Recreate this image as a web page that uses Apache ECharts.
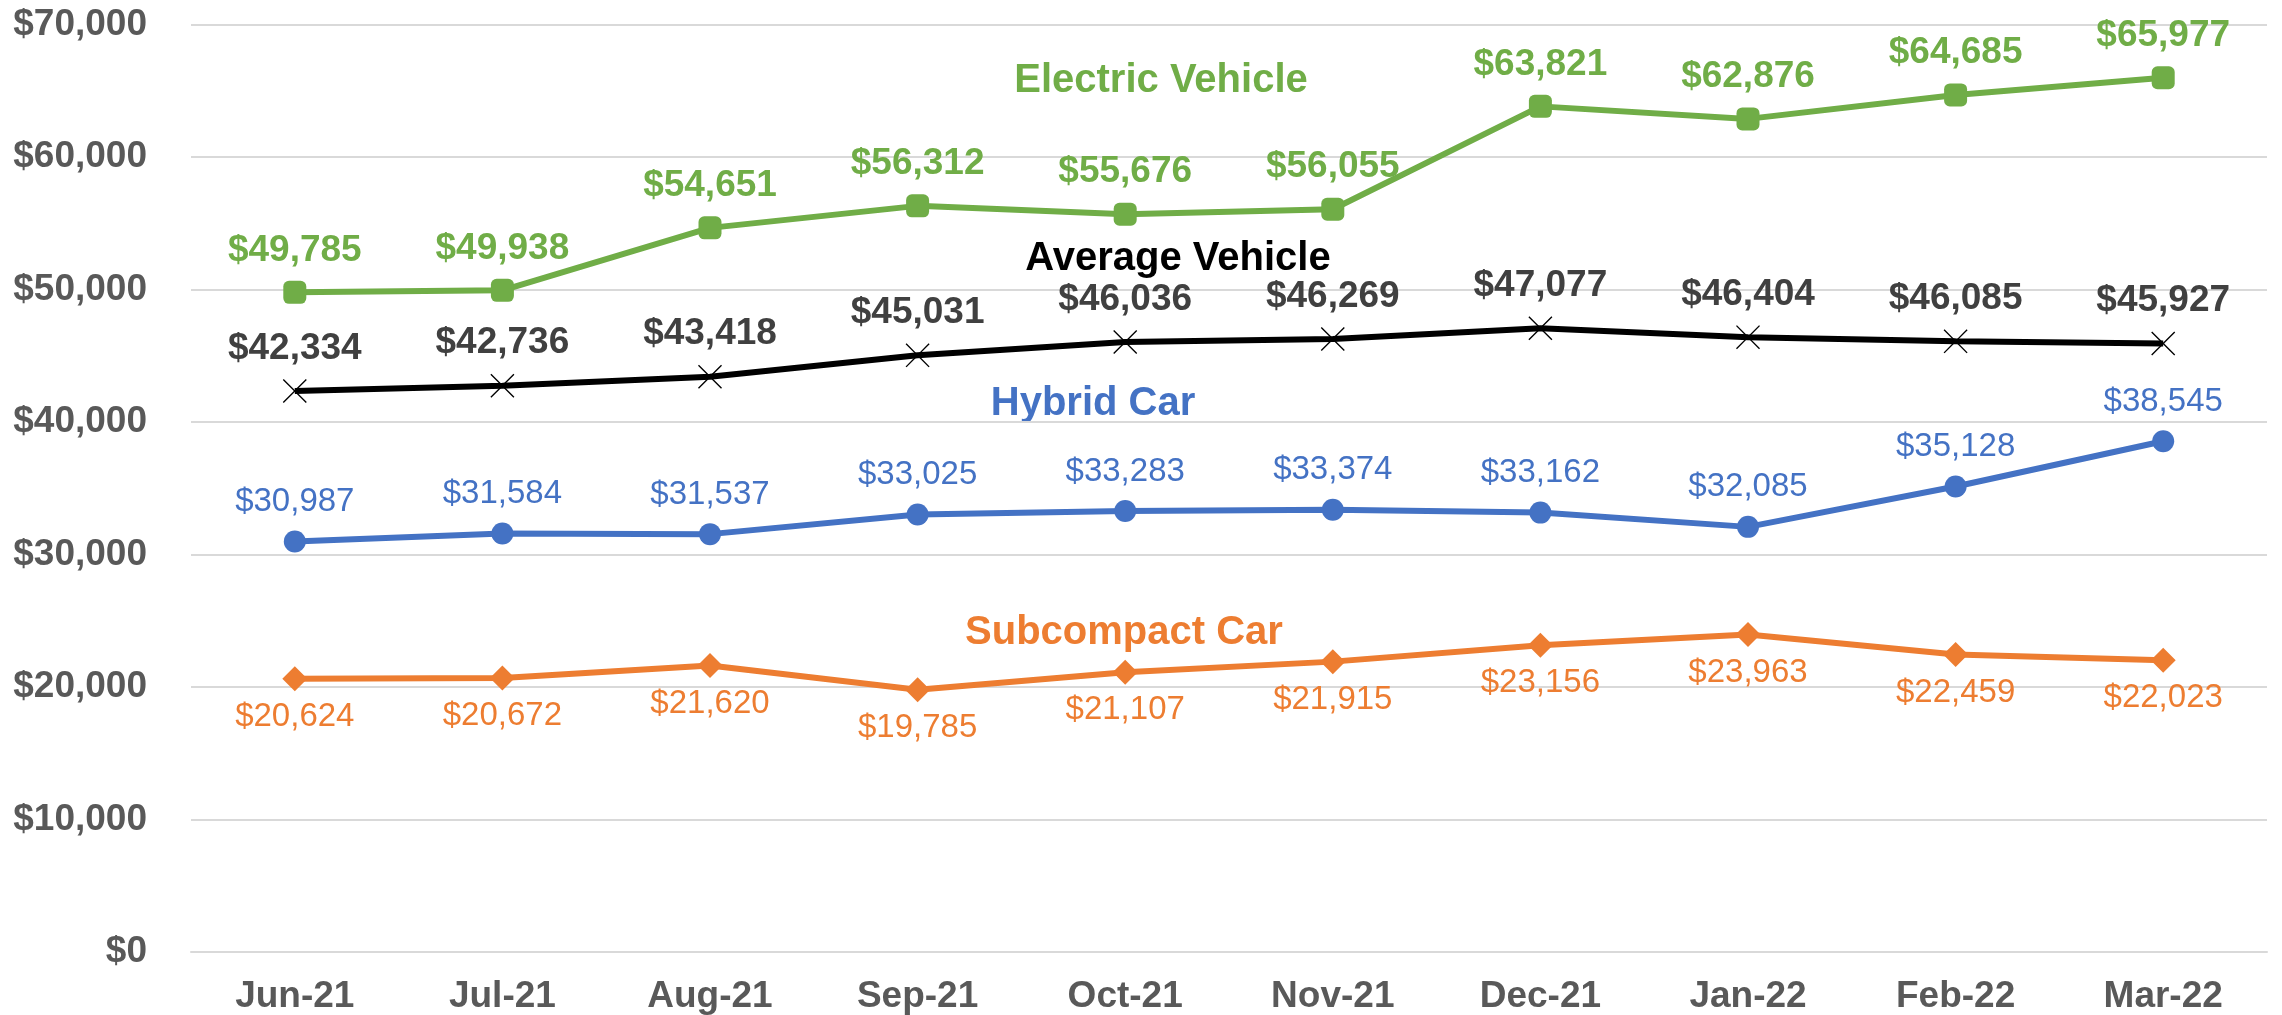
<!DOCTYPE html>
<html>
<head>
<meta charset="utf-8">
<script src="https://cdn.jsdelivr.net/npm/echarts@6/dist/echarts.min.js"></script>
<style>
  html, body { margin: 0; padding: 0; background: #fff; }
  #chart { width: 2282px; height: 1015px; }
</style>
</head>
<body>
<div id="chart"></div>
<script>
const months = ["Jun-21", "Jul-21", "Aug-21", "Sep-21", "Oct-21", "Nov-21", "Dec-21", "Jan-22", "Feb-22", "Mar-22"]

const electric = [49785, 49938, 54651, 56312, 55676, 56055, 63821, 62876, 64685, 65977]
const average = [42334, 42736, 43418, 45031, 46036, 46269, 47077, 46404, 46085, 45927]
const hybrid = [30987, 31584, 31537, 33025, 33283, 33374, 33162, 32085, 35128, 38545]
const subcompact = [20624, 20672, 21620, 19785, 21107, 21915, 23156, 23963, 22459, 22023]

const FONT = "Liberation Sans, Arial, sans-serif"
const money = (v) => "$" + Number(v).toLocaleString("en-US")

// thin filled X so it renders like Excel's cross marker
const CROSS = "path://M0,4L4,0L50,46L96,0L100,4L54,50L100,96L96,100L50,54L4,100L0,96L46,50Z"

const chart = echarts.init(document.getElementById("chart"))

function lineSeries(name, data, color, symbol, size, label) {
  return {
    name,
    type: "line",
    data,
    symbol,
    symbolSize: size,
    showAllSymbol: true,
    lineStyle: { color, width: 6 },
    itemStyle: { color, borderWidth: 0 },
    label: Object.assign({
      show: true,
      formatter: (p) => money(p.value),
      fontFamily: FONT,
    }, label),
    emphasis: { disabled: true },
  }
}

chart.setOption({
  backgroundColor: "#fff",
  animation: false,
  grid: { left: 191, right: 15, top: 24.5, bottom: 62, containLabel: false },
  xAxis: {
    type: "category",
    data: months,
    boundaryGap: true,
    axisLine: { show: true, lineStyle: { color: "#D9D9D9", width: 2 } },
    axisTick: { show: false },
    axisLabel: { color: "#595959", fontSize: 37, fontWeight: "bold", fontFamily: FONT, margin: 26 },
    splitLine: { show: false },
  },
  yAxis: {
    type: "value",
    min: 0,
    max: 70000,
    interval: 10000,
    axisLine: { show: false },
    axisTick: { show: false },
    axisLabel: {
      color: "#595959", fontSize: 37, fontWeight: "bold", fontFamily: FONT, margin: 44,
      formatter: money,
    },
    splitLine: { lineStyle: { color: "#D9D9D9", width: 2 } },
  },
  series: [
    lineSeries("Subcompact Car", subcompact, "#ED7D31", "diamond", [25, 25],
      { position: "bottom", distance: 9, color: "#ED7D31", fontSize: 33 }),
    lineSeries("Hybrid Car", hybrid, "#4472C4", "circle", 22,
      { position: "top", distance: 12, color: "#4472C4", fontSize: 33 }),
    lineSeries("Average Vehicle", average, "#000000", CROSS, 24,
      { position: "top", distance: 12, color: "#404040", fontSize: 37, fontWeight: "bold" }),
    lineSeries("Electric Vehicle", electric, "#70AD47", "roundRect", 23,
      { position: "top", distance: 12, color: "#70AD47", fontSize: 37, fontWeight: "bold" }),
  ],
  graphic: [
    { type: "text", x: 1161, y: 81, style: { text: "Electric Vehicle", fill: "#70AD47", font: "bold 40px " + FONT, align: "center", verticalAlign: "middle" } },
    { type: "text", x: 1178, y: 259, style: { text: "Average Vehicle", fill: "#000000", font: "bold 40px " + FONT, align: "center", verticalAlign: "middle" } },
    { type: "text", x: 1093, y: 404, style: { text: "Hybrid Car", fill: "#4472C4", font: "bold 40px " + FONT, align: "center", verticalAlign: "middle" } },
    { type: "text", x: 1124, y: 633, style: { text: "Subcompact Car", fill: "#ED7D31", font: "bold 40px " + FONT, align: "center", verticalAlign: "middle" } },
  ],
})
</script>
</body>
</html>
